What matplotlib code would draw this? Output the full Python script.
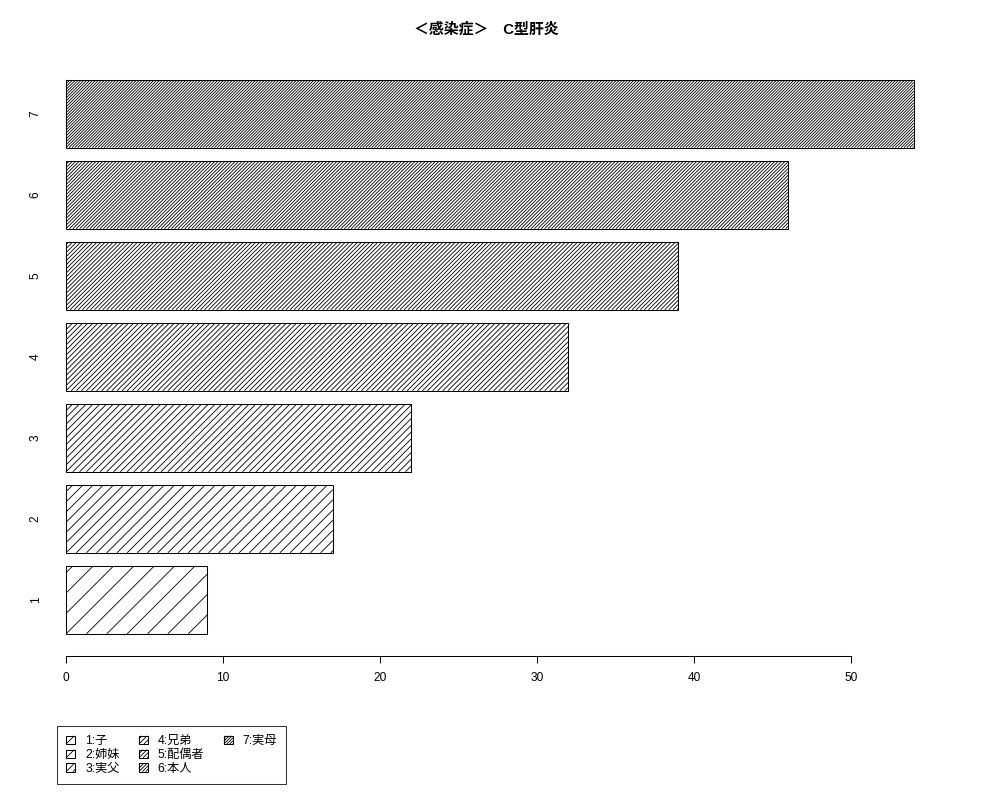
import math
import matplotlib
matplotlib.use("Agg")
import matplotlib.pyplot as plt
from matplotlib.patches import Patch, Rectangle
from matplotlib.collections import LineCollection
from matplotlib.legend_handler import HandlerBase

# data
categories = ["1", "2", "3", "4", "5", "6", "7"]
values = [9, 17, 22, 32, 39, 46, 54]
densities = [5, 10, 15, 20, 25, 30, 35]  # hatch lines per inch (R style)
legend_labels = ["1:子", "2:姉妹", "3:実父", "4:兄弟", "5:配偶者", "6:本人", "7:実母"]
xticks = [0, 10, 20, 30, 40, 50]
title = "＜感染症＞　C型肝炎"

DPI = 122
plt.rcParams["font.family"] = ["Liberation Sans", "Noto Sans CJK JP", "DejaVu Sans"]


def hatch_segments(x0, y0, x1, y1, step):
    # 45 degree lines inside a box, step = horizontal distance between lines
    w, h = x1 - x0, y1 - y0
    segs = []
    k0 = math.ceil(-h / step)
    k1 = math.floor(w / step)
    for k in range(k0, k1 + 1):
        c = k * step
        xa, xb = max(0.0, c), min(w, h + c)
        if xb > xa:
            segs.append([(x0 + xa, y0 + xa - c), (x0 + xb, y0 + xb - c)])
    return segs


class HatchBoxHandler(HandlerBase):
    def __init__(self, density):
        super().__init__()
        self.density = density

    def create_artists(self, legend, orig_handle, xdescent, ydescent,
                       width, height, fontsize, trans):
        x0, y0 = -xdescent, -ydescent
        rect = Rectangle((x0, y0), width, height, facecolor="white",
                         edgecolor="black", linewidth=0.6, transform=trans)
        step = 72 * math.sqrt(2) / self.density * 72 / DPI
        lc = LineCollection(hatch_segments(x0, y0, x0 + width, y0 + height, step),
                            colors="black", linewidths=0.5, transform=trans)
        return [rect, lc]


fig = plt.figure(figsize=(1000 / DPI, 800 / DPI), dpi=DPI)
ax = fig.add_axes([45 / 1000, 144 / 800, 903 / 1000, 598 / 800])
ax.set_xlim(-1.34, 56.18)
ax.set_ylim(-0.128, 8.728)

ypos = [0.7 + 1.2 * i for i in range(len(values))]
bars = ax.barh(ypos, values, height=1.0, color="white", edgecolor="black",
               linewidth=0.6, zorder=1)

# hatch lines, spacing fixed in pixels like R's density argument
inv = ax.transData.inverted()
for y, v, d in zip(ypos, values, densities):
    (px0, py0), (px1, py1) = ax.transData.transform([(0, y - 0.5), (v, y + 0.5)])
    step = 72 * math.sqrt(2) / d
    segs = hatch_segments(px0, py0, px1, py1, step)
    segs = [inv.transform(s) for s in segs]
    ax.add_collection(LineCollection(segs, colors="black", linewidths=0.5, zorder=2))

for s in ["top", "right", "left"]:
    ax.spines[s].set_visible(False)
ax.spines["bottom"].set_bounds(0, 50)
ax.spines["bottom"].set_linewidth(0.6)

ax.set_xticks(xticks)
ax.set_xticklabels([str(t) for t in xticks], fontsize=7)
ax.tick_params(axis="x", length=4.1, width=0.6, pad=5.5)
ax.set_yticks(ypos)
ax.set_yticklabels(categories, fontsize=7, rotation=90, va="center")
ax.tick_params(axis="y", length=0, pad=2)

fig.text(0.486, 1 - 29 / 800, title, ha="center", va="center",
         fontsize=8.8, fontweight="bold")

handles = [Patch(label=l) for l in legend_labels]
hmap = {h: HatchBoxHandler(d) for h, d in zip(handles, densities)}
labels = list(legend_labels)
# pad to fill columns like R (3, 3, 1)
for _ in range(2):
    handles.append(Patch(visible=False))
    labels.append("")
leg = fig.legend(handles, labels, handler_map=hmap, ncol=3, loc="upper left",
                 bbox_to_anchor=(57 / 1000, 1 - 726 / 800),
                 fontsize=7.2, frameon=True, fancybox=False,
                 handlelength=0.75, handleheight=0.65, handletextpad=0.8,
                 columnspacing=1.6, borderpad=0.75, labelspacing=0.15,
                 borderaxespad=0)
leg.get_frame().set_edgecolor("black")
leg.get_frame().set_linewidth(0.6)

fig.savefig("out.png", dpi=DPI)
